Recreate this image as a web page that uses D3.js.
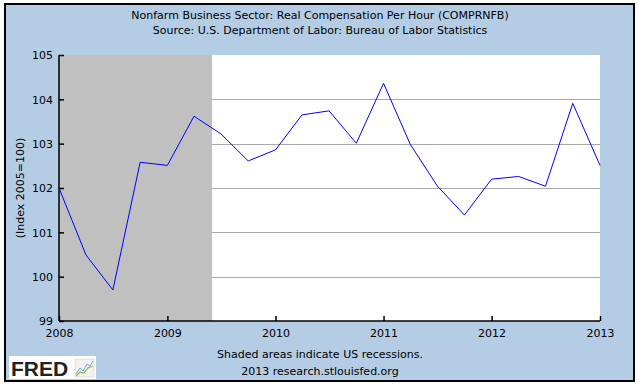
<!DOCTYPE html>
<html>
<head>
<meta charset="utf-8">
<style>
  body { margin: 0; background: #fff; }
  text { font-family: "DejaVu Sans", Verdana, sans-serif; font-size: 11px; fill: #000; }
</style>
</head>
<body>
<div id="chart-area"></div>
<script src="https://d3js.org/d3.v7.min.js"></script>
<script>
    // quarterly values, 2008Q1 .. 2013Q1
    const quarters = ["2008-01-01","2008-04-01","2008-07-01","2008-10-01",
                      "2009-01-01","2009-04-01","2009-07-01","2009-10-01",
                      "2010-01-01","2010-04-01","2010-07-01","2010-10-01",
                      "2011-01-01","2011-04-01","2011-07-01","2011-10-01",
                      "2012-01-01","2012-04-01","2012-07-01","2012-10-01",
                      "2013-01-01"];
    const values = [102.00, 100.49, 99.70, 102.58,
                    102.51, 103.62, 103.22, 102.61,
                    102.86, 103.65, 103.74, 103.01,
                    104.36, 102.99, 102.05, 101.39,
                    102.20, 102.26, 102.04, 103.91,
                    102.51];
    const recessions = [["2007-12-01", "2009-06-01"]];
    const yTicks = [99, 100, 101, 102, 103, 104, 105];
    const xTicks = ["2008", "2009", "2010", "2011", "2012", "2013"];

    const W = 639, H = 388;
    const m = {left: 59, right: 39, top: 55, bottom: 67};
    const parse = d3.timeParse("%Y-%m-%d");

    const svg = d3.select("#chart-area").append("svg")
        .attr("width", W).attr("height", H);

    // frame
    svg.append("rect")
        .attr("x", 5).attr("y", 4).attr("width", 629).attr("height", 377)
        .attr("fill", "#b4cde4").attr("stroke", "#000").attr("stroke-width", 2);

    svg.append("text").attr("x", 320).attr("y", 19).attr("text-anchor", "middle")
        .text("Nonfarm Business Sector: Real Compensation Per Hour (COMPRNFB)");
    svg.append("text").attr("x", 320).attr("y", 34).attr("text-anchor", "middle")
        .text("Source: U.S. Department of Labor: Bureau of Labor Statistics");

    const x = d3.scaleTime()
        .domain([parse("2008-01-01"), parse("2013-01-01")])
        .range([m.left, W - m.right]);
    const y = d3.scaleLinear().domain([99, 105]).range([H - m.bottom, m.top]);

    svg.append("rect")
        .attr("x", m.left).attr("y", m.top)
        .attr("width", x.range()[1] - m.left).attr("height", y(99) - m.top)
        .attr("fill", "#fff");

    // grid
    svg.append("g").selectAll("line").data(yTicks.slice(1, -1)).join("line")
        .attr("x1", m.left).attr("x2", x.range()[1])
        .attr("y1", d => Math.round(y(d)) + 0.5).attr("y2", d => Math.round(y(d)) + 0.5)
        .attr("stroke", "#aaa");

    // recession shading
    svg.append("g").selectAll("rect").data(recessions).join("rect")
        .attr("x", d => Math.max(x(parse(d[0])), m.left))
        .attr("y", m.top)
        .attr("width", d => x(parse(d[1])) - Math.max(x(parse(d[0])), m.left))
        .attr("height", y(99) - m.top)
        .attr("fill", "#c0c0c0");

    // axes
    const yAxis = d3.axisLeft(y).tickValues(yTicks).tickSize(-5).tickPadding(6).tickFormat(d3.format("d"));
    const gy = svg.append("g").attr("transform", `translate(${m.left},0)`).call(yAxis);
    const xAxis = d3.axisBottom(x).tickValues(xTicks.map(t => parse(t + "-01-01")))
        .tickSize(-5).tickPadding(6).tickFormat(d3.timeFormat("%Y"));
    const gx = svg.append("g").attr("transform", `translate(0,${y(99)})`).call(xAxis);
    [gx, gy].forEach(g => {
        g.select(".domain").attr("stroke", "#000").attr("stroke-width", 1.5);
        g.selectAll(".tick line").attr("stroke", "#000").attr("stroke-width", 1.5);
        g.selectAll("text").attr("font-size", null).attr("font-family", null);
    });
    gy.select(".domain").attr("d", `M0,${m.top}V${y(99)}`);
    gx.select(".domain").attr("d", `M${m.left},0H${x.range()[1]}`);
    gx.selectAll(".tick text").attr("dy", "0.9em");
    gy.selectAll(".tick text").attr("dy", "0.35em");

    svg.append("text")
        .attr("transform", `translate(24,${(m.top + y(99)) / 2}) rotate(-90)`)
        .attr("text-anchor", "middle")
        .text("(Index 2005=100)");

    // series
    const line = d3.line().x((d, i) => x(parse(quarters[i]))).y(d => y(d));
    svg.append("path").datum(values)
        .attr("d", line)
        .attr("fill", "none").attr("stroke", "#0000ff").attr("stroke-width", 1);

    // footer
    svg.append("text").attr("x", 320).attr("y", 358).attr("text-anchor", "middle")
        .text("Shaded areas indicate US recessions.");
    svg.append("text").attr("x", 320).attr("y", 375).attr("text-anchor", "middle")
        .text("2013 research.stlouisfed.org");

    // FRED logo
    const logo = svg.append("g");
    logo.append("rect").attr("x", 9).attr("y", 356).attr("width", 87).attr("height", 23).attr("fill", "#fff");
    logo.append("text").attr("x", 11).attr("y", 376)
        .style("font-family", "'Liberation Sans', Arial, sans-serif")
        .style("font-size", "21px").style("font-weight", "bold").style("fill", "#222")
        .text("FRED");
    logo.append("rect").attr("x", 75).attr("y", 359).attr("width", 19).attr("height", 18)
        .attr("fill", "#f2f2f2").attr("stroke", "#ccc").attr("stroke-width", 0.5);
    logo.append("path").attr("d", "M76,374 L80,368 L83,371 L87,364 L90,366 L93,361")
        .attr("fill", "none").attr("stroke", "#7aa7d8").attr("stroke-width", 1);
    logo.append("path").attr("d", "M76,376 L80,372 L84,373 L88,368 L93,366")
        .attr("fill", "none").attr("stroke", "#8cbc4c").attr("stroke-width", 1.2);
</script>
</body>
</html>
